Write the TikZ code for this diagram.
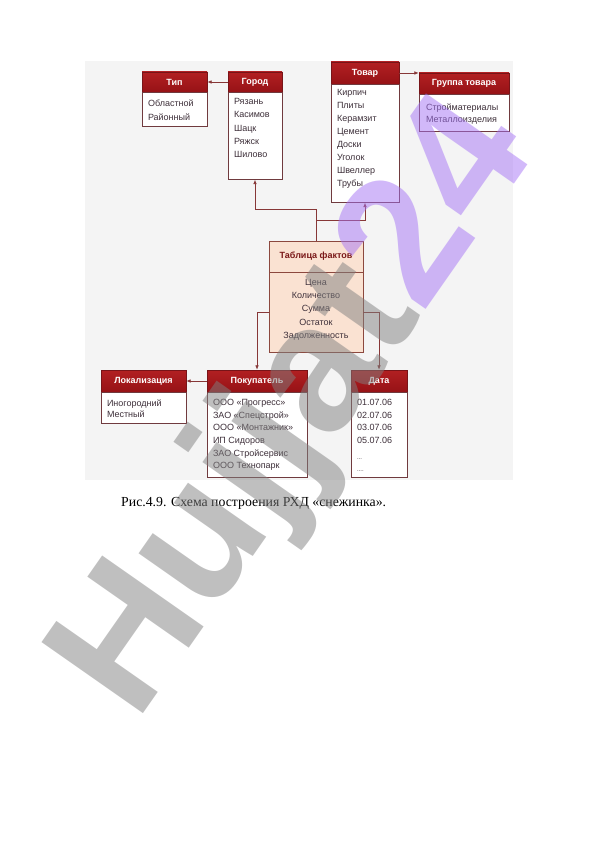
\documentclass[tikz,border=0pt]{standalone}
\usepackage{fontspec}
\setmainfont{Liberation Serif}
\newfontfamily\diag{Liberation Sans}
\usepackage{xcolor}
\usepackage{tikz}
\usetikzlibrary{arrows.meta}

\definecolor{bgcol}{RGB}{244,244,244}
\definecolor{hdtop}{RGB}{178,32,34}
\definecolor{hdbot}{RGB}{150,18,22}
\definecolor{hdline}{RGB}{120,20,24}
\definecolor{boxline}{RGB}{112,58,62}
\definecolor{itemtext}{RGB}{62,48,58}
\definecolor{linkcol}{RGB}{135,55,55}
\definecolor{factfill}{RGB}{250,226,210}
\definecolor{factline}{RGB}{140,72,62}
\definecolor{facttext}{RGB}{122,24,24}
\definecolor{wmgray}{RGB}{128,128,128}
\definecolor{wmpurple}{RGB}{165,115,245}

\tikzset{
  head/.style={draw=hdline, top color=hdtop, bottom color=hdbot, text=white,
    font=\diag\bfseries\fontsize{9}{11}\selectfont, inner sep=0pt},
  box/.style={draw=boxline, fill=white, inner sep=0pt, anchor=north},
  items/.style={anchor=north west, align=left, inner sep=0pt, text=itemtext,
    font=\diag\fontsize{9}{12.8}\selectfont},
  link/.style={draw=linkcol, line width=.8pt, -{Latex[length=4.5pt,width=3.6pt]}},
}

\begin{document}
\begin{tikzpicture}[x=1pt, y=-1pt]
 \useasboundingbox (0, 0) rectangle (596, 842);
 \fill[bgcol] (85, 61) rectangle (513, 480);
 % upper row
  \node[head, minimum width = 65pt, minimum height = 20pt] (tip) at (174.5, 82) {Тип};
  \node[box, minimum width = 65pt, minimum height = 34pt] (tipbody) at (tip.south) {};
  \node[items, font=\diag\fontsize{9}{14}\selectfont] (tiplist) at ([xshift = 6pt, yshift = -7pt]tipbody.north west) {Областной\\Районный};

  \node[head, minimum width = 54pt, minimum height = 20pt] (gorod) at (255, 82) {Город};
  \node[box, minimum width = 54pt, minimum height = 87pt] (gorodbody) at (gorod.south) {};
  \node[items, font=\diag\fontsize{9}{13.3}\selectfont] (gorodlist) at ([xshift = 6pt, yshift = -6pt]gorodbody.north west) {Рязань\\Касимов\\Шацк\\Ряжск\\Шилово};

  \node[head, minimum width = 68pt, minimum height = 22pt] (tovar) at (365, 73) {Товар};
  \node[box, minimum width = 68pt, minimum height = 118pt] (tovarbody) at (tovar.south) {};
  \node[items, font=\diag\fontsize{9}{13}\selectfont] (tovarlist) at ([xshift = 6pt, yshift = -5pt]tovarbody.north west) {Кирпич\\Плиты\\Керамзит\\Цемент\\Доски\\Уголок\\Швеллер\\Трубы};

  \node[head, minimum width = 90pt, minimum height = 21pt] (gruppa) at (464, 83.5) {Группа товара};
  \node[box, minimum width = 90pt, minimum height = 37pt] (gruppabody) at (gruppa.south) {};
  \node[items, font=\diag\fontsize{9}{12.5}\selectfont] (gruppalist) at ([xshift = 7pt, yshift = -9pt]gruppabody.north west) {Стройматериалы\\Металлоизделия};

 % fact table
  \node[draw = factline, fill = factfill, inner sep = 0pt, minimum width = 94pt, minimum height = 31pt, text = facttext, font = \diag\bfseries\fontsize{9}{11}\selectfont] (fact) at (316, 256.5) {Таблица фактов};
  \node[box, draw = factline, fill = factfill, minimum width = 94pt, minimum height = 80pt] (factbody) at (fact.south) {};
  \node[items, anchor = north, align = center, font=\diag\fontsize{9}{13.2}\selectfont] (factlist) at ([yshift = -7pt]factbody.north) {Цена\\Количество\\Сумма\\Остаток\\Задолженность};

 % lower row
  \node[head, minimum width = 85pt, minimum height = 22pt] (lokal) at (143.5, 381) {Локализация};
  \node[box, minimum width = 85pt, minimum height = 31pt] (lokalbody) at (lokal.south) {};
  \node[items, font=\diag\fontsize{9}{11.6}\selectfont] (lokallist) at ([xshift = 6pt, yshift = -7pt]lokalbody.north west) {Иногородний\\Местный};

  \node[head, minimum width = 100pt, minimum height = 22pt] (pokup) at (257, 381) {Покупатель};
  \node[box, minimum width = 100pt, minimum height = 85pt] (pokupbody) at (pokup.south) {};
  \node[items, font=\diag\fontsize{9}{12.6}\selectfont] (pokuplist) at ([xshift = 6pt, yshift = -7pt]pokupbody.north west) {ООО «Прогресс»\\ЗАО «Спецстрой»\\ООО «Монтажник»\\ИП Сидоров\\ЗАО Стройсервис\\ООО Технопарк};

  \node[head, minimum width = 56pt, minimum height = 22pt] (data) at (379, 381) {Дата};
  \node[box, minimum width = 56pt, minimum height = 85pt] (databody) at (data.south) {};
  \node[items, font=\diag\fontsize{9}{12.6}\selectfont] (datalist) at ([xshift = 6pt, yshift = -7pt]databody.north west) {01.07.06\\02.07.06\\03.07.06\\05.07.06\\[3pt]{\fontsize{6}{8}\selectfont ...}\\{\fontsize{6}{8}\selectfont ....}};

 % connectors
  \draw[link] (gorod.west) -- (tip.east);
  \draw[link] (tovar.east) -- (tovar.east -| gruppa.west);
  \draw[link] (fact.north) -- ++(0, -31) -| (gorodbody.south);
  \draw[link] (fact.north) -- ++(0, -20) -| (tovarbody.south);
  \draw[link] (factbody.west) -| (pokup.north);
  \draw[link] (factbody.east) -| (data.north);
  \draw[link] (pokup.west) -- (lokal.east);

 % caption
  \node[anchor = base west, inner sep = 0pt, font = \fontsize{13.8}{16}\selectfont] (caption) at (121, 506) {Рис.4.9. Схема построения РХД «снежинка».};

 % watermark
  \node[anchor = base west, inner sep = 0pt, rotate = 55, text opacity = .5, font = \diag\bfseries\fontsize{180}{180}\selectfont] (wmark) at (136, 724) {\textcolor{wmgray}{Hujjat}\textcolor{wmpurple}{24}};
\end{tikzpicture}
\end{document}
